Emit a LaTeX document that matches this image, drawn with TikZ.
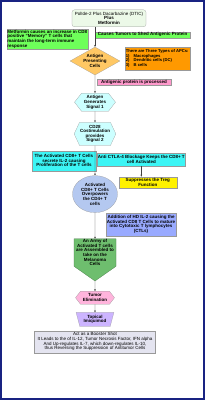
\documentclass[tikz,border=0pt]{standalone}
\usepackage{fontspec}
\setmainfont{Liberation Sans}
\usepackage{xcolor}
\usetikzlibrary{arrows.meta,positioning,shapes.geometric,shapes.symbols}

\definecolor{mint}{RGB}{236,249,232}
\definecolor{lime}{RGB}{110,255,90}
\definecolor{apcorange}{RGB}{255,200,100}
\definecolor{typesorange}{RGB}{255,153,0}
\definecolor{procpink}{RGB}{255,153,204}
\definecolor{palecyan}{RGB}{204,255,255}
\definecolor{cyanbox}{RGB}{60,245,245}
\definecolor{cdblue}{RGB}{180,200,240}
\definecolor{ctlblue}{RGB}{153,170,255}
\definecolor{armygreen}{RGB}{110,190,110}
\definecolor{tumorpink}{RGB}{255,180,220}
\definecolor{imiqviolet}{RGB}{204,180,255}
\definecolor{boostergray}{RGB}{228,228,240}
\definecolor{framenavy}{RGB}{25,35,130}

\begin{document}
\begin{tikzpicture}[
  x=1pt, y=1pt,
  node distance=20pt,
  every node/.style={font=\fontsize{9}{9.3}\selectfont\bfseries, inner sep=1.5pt},
  box/.style={draw=gray!80, align=center},
  hexa/.style={signal, signal to=east and west, draw=gray!80, align=center, inner sep=1pt},
  decision/.style={diamond, draw=gray!80, fill=apcorange, align=center, inner sep=0pt, aspect=1.8, minimum width=100pt, minimum height=56pt},
  arrow/.style={-{Stealth[length=4pt,width=3.5pt]}, draw=black!75, line width=0.6pt}
]
\useasboundingbox (0,0) rectangle (410,-800);
\draw[framenavy, line width=3pt] (2,-2) rectangle (408,-798);

\node[decision] (apc) at (190,-122) {Antigen\\Presenting\\Cells};
\node[box, rounded corners=5pt, fill=mint, minimum width=148pt, minimum height=34pt, above=40pt of apc, xshift=28pt] (drug) {\mdseries PolIde-2 Plus Dacarbazine (DTIC)\\Plus\\Metformin};
\node[box, fill=lime, align=left, minimum width=156pt, minimum height=38pt, above left=-4pt and 14pt of apc.north] (metformin) {Metformin causes an increase in CD8\\positive ``Memory'' T cells that\\maintain the long-term immune\\response};
\node[box, fill=lime, minimum width=190pt, minimum height=12pt, above right=18pt and 0pt of apc.north] (shed) {Causes Tumors to Shed Antigenic Protein};
\node[box, fill=typesorange, align=left, font=\fontsize{8.3}{9.3}\selectfont\bfseries, minimum width=130pt, minimum height=46pt, right=9pt of apc, yshift=5pt] (types) {There are Three Types of APCs:\\1)\quad Macrophages\\2)\quad Dendritic cells (DC)\\3)\quad B cells};

\node[hexa, fill=palecyan, minimum width=82pt, minimum height=36pt, signal pointer angle=104, below=36pt of apc] (sig1) {Antigen\\Generates\\Signal 1};
\node[box, fill=procpink, minimum width=148pt, minimum height=12pt, above right=16pt and 4pt of sig1.north] (processed) {Antigenic protein is processed};
\node[hexa, fill=palecyan, minimum width=78pt, minimum height=46pt, signal pointer angle=130, below=22pt of sig1] (sig2) {CD28\\Costimulation\\provides\\Signal 2};

\node[box, fill=cyanbox, minimum width=128pt, minimum height=40pt, below left=10pt and -2pt of sig2.south] (il2) {The Activated CD8+ T Cells\\secrete IL-2 causing\\Proliferation of the T cells};
\node[box, fill=cyanbox, minimum width=166pt, minimum height=26pt, below right=14pt and 4pt of sig2.south] (ctla) {Anti CTLA-4 Blockage Keeps the CD8+ T\\cell Activated};
\node[box, fill=yellow, minimum width=116pt, minimum height=22pt, below=22pt of ctla, xshift=13pt] (treg) {Suppresses the Treg\\Function};

\node[ellipse, draw=gray!80, fill=cdblue, align=center, inner sep=0pt, minimum width=90pt, minimum height=74pt, below=60pt of sig2] (cd8) {Activated\\CD8+ T Cells\\Overpowers\\the CD4+ T\\cells};
\node[box, fill=ctlblue, minimum width=140pt, minimum height=46pt, below right=0pt and 22pt of cd8.south] (ctl) {Addition of HD IL-2 causing the\\Activated CD8 T Cells to mature\\into Cytotoxic T lymphocytes\\(CTLs)};

\node[signal, signal to=south, signal pointer angle=110, draw=armygreen!60!black, fill=armygreen, align=center, inner sep=1pt, inner ysep=-1pt, minimum width=84pt, minimum height=82pt, below=52pt of cd8] (army) {An Army of\\Activated T cells\\are Assembled to\\take on the\\Melanoma\\Cells};
\node[hexa, fill=tumorpink, minimum width=78pt, minimum height=26pt, signal pointer angle=105, below=20pt of army] (tumor) {Tumor\\Elimination};
\node[trapezium, trapezium stretches=true, shape border rotate=180, trapezium left angle=74, trapezium right angle=74, draw=gray!80, fill=imiqviolet, align=center, minimum width=76pt, minimum height=28pt, below=16pt of tumor] (imiq) {Topical\\Imiquimod};
\node[box, fill=boostergray, font=\fontsize{9}{9.3}\selectfont, minimum width=242pt, minimum height=44pt, below=8pt of imiq] (booster) {Act as a Booster Shot\\It Leads to the of IL-12, Tumor Necrosis Factor, IFN alpha\\And Up-regulates IL-7, which down-regulates IL-10,\\thus Reversing the Suppression of Antitumor Cells};

\draw[arrow] (drug.south -| apc.north) -- (apc.north);
\draw[arrow] (apc) -- (sig1);
\draw[arrow] (sig1) -- (sig2);
\draw[arrow] (sig2) -- (cd8);
\draw[arrow] (ctla.south) -- (ctla.south |- treg.north);
\draw[arrow] (cd8) -- (army);
\draw[arrow] (army) -- (tumor);
\draw[arrow] (tumor) -- (imiq);
\end{tikzpicture}
\end{document}
